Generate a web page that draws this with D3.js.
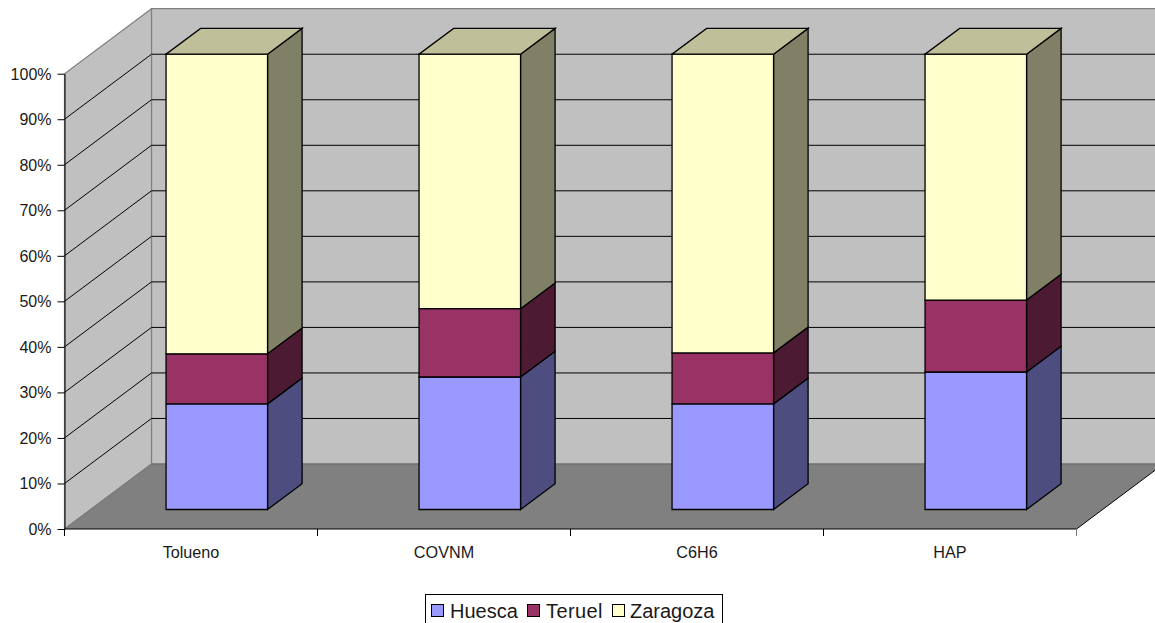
<!DOCTYPE html>
<html><head><meta charset="utf-8">
<script src="https://cdn.jsdelivr.net/npm/d3@7"></script>
<style>html,body{margin:0;padding:0;background:#fff;overflow:hidden}svg{display:block}text{font-family:"Liberation Sans",Arial,sans-serif;fill:#1a1a1a}</style>
</head><body><svg id="c" width="1155" height="623"></svg>
<script>
const categories = ["Tolueno","COVNM","C6H6","HAP"];
const seriesNames = ["Huesca","Teruel","Zaragoza"];
const huesca = [23.2,29.1,23.2,30.2];
const teruel = [11.0,15.0,11.2,15.8];
const zaragoza = [65.8,55.9,65.6,54.0];
const seriesValues = [huesca,teruel,zaragoza];
const frontColors = ["#9999ff","#993366","#ffffcc"];
const sideColors = ["#4d4d80","#4d1a33","#808066"];
const topColor = "#bfbf99";
const yTicks = [0,10,20,30,40,50,60,70,80,90,100];

const svg=d3.select("#c");
const y=d3.scaleLinear().domain([0,100]).range([529,73.7]);
const x=d3.scaleBand().domain(categories).range([64.5,1076.5]).paddingInner(0).paddingOuter(0);
const depthX=d3.scaleLinear().domain([0,1]).range([0,87]);
const depthY=d3.scaleLinear().domain([0,1]).range([0,-65]);
const pt=(px,py,d)=>[px+depthX(d),py+depthY(d)];
const poly=(pts,fill,stroke,sw)=>svg.append("polygon").attr("points",pts.map(p=>p.join(",")).join(" ")).attr("fill",fill).attr("stroke",stroke||"none").attr("stroke-width",sw||1).attr("stroke-linejoin","miter");
const x0=x.range()[0],x1=x.range()[1],y0=y(0),y100=y(100);

poly([pt(x0,y100,1),pt(x1,y100,1),pt(x1,y0,1),pt(x0,y0,1)],"#c0c0c0","#808080",1.2);
poly([pt(x0,y0,0),pt(x0,y100,0),pt(x0,y100,1),pt(x0,y0,1)],"#c0c0c0","#808080",1.2);
yTicks.filter(t=>t>0&&t<100).forEach(t=>{
  const a=pt(x0,y(t),0),b=pt(x0,y(t),1),c=pt(x1,y(t),1);
  svg.append("path").attr("d",d3.line()([a,b,c])).attr("fill","none").attr("stroke","#000").attr("stroke-width",1);
});
poly([pt(x0,y0,0),pt(x1,y0,0),pt(x1,y0,1),pt(x0,y0,1)],"#808080");
svg.append("path").attr("d",d3.line()([pt(x0,y0,1),pt(x1,y0,1)])).attr("stroke","#666").attr("fill","none");
svg.append("path").attr("d",d3.line()([pt(x0,y0,0),pt(x0,y0,1)])).attr("stroke","#777").attr("fill","none");
svg.append("path").attr("d",d3.line()([pt(x1,y0,0),pt(x1,y0,1)])).attr("stroke","#000").attr("fill","none");

const barW=101.5, dFront=0.3, dBack=0.697;
categories.forEach((cat,i)=>{
  const left=x(cat)+(x.bandwidth()-barW)/2-0.3;
  let acc=0;
  seriesValues.forEach((vals,s)=>{
    const lo=acc, hi=acc+vals[i]; acc=hi;
    const yl=y(lo),yh=y(hi);
    const r=left+barW;
    poly([pt(r,yl,dFront),pt(r,yl,dBack),pt(r,yh,dBack),pt(r,yh,dFront)],sideColors[s],"#000",1.3);
    poly([pt(left,yl,dFront),pt(r,yl,dFront),pt(r,yh,dFront),pt(left,yh,dFront)],frontColors[s],"#000",1.3);
    if(s===seriesValues.length-1)
      poly([pt(left,yh,dFront),pt(r,yh,dFront),pt(r,yh,dBack),pt(left,yh,dBack)],topColor,"#000",1.3);
  });
});

const ya=svg.append("g").attr("transform",`translate(${x0},0)`)
  .call(d3.axisLeft(y).tickValues(yTicks).tickFormat(d=>d+"%").tickSize(7).tickSizeOuter(0).tickPadding(6));
ya.selectAll("text").attr("font-size",16).attr("dy","0.34em");
ya.selectAll("line,path").attr("stroke","#000");
svg.append("path").attr("d",d3.line()([[x0,y0],[x1,y0]])).attr("stroke","#000").attr("fill","none");
d3.range(categories.length+1).forEach(i=>{
  const tx=x0+i*x.step();
  svg.append("line").attr("x1",tx).attr("x2",tx).attr("y1",y0).attr("y2",y0+7).attr("stroke",i===categories.length?"#777":"#000");
});
categories.forEach(c=>{
  svg.append("text").attr("x",x(c)+x.bandwidth()/2).attr("y",558).attr("text-anchor","middle").attr("font-size",16.2).text(c);
});

const lg=svg.append("g");
lg.append("rect").attr("x",425.5).attr("y",594.5).attr("width",297).attr("height",40).attr("fill","#fff").attr("stroke","#000");
const swX=[431.5,527.5,612.5], txtX=[450,546,630];
seriesNames.forEach((n,i)=>{
  lg.append("rect").attr("x",swX[i]).attr("y",604.5).attr("width",12).attr("height",12).attr("fill",frontColors[i]).attr("stroke","#000");
  lg.append("text").attr("x",txtX[i]).attr("y",618).attr("font-size",20).attr("letter-spacing",i===1?0.4:0).text(n);
});
</script></body></html>
